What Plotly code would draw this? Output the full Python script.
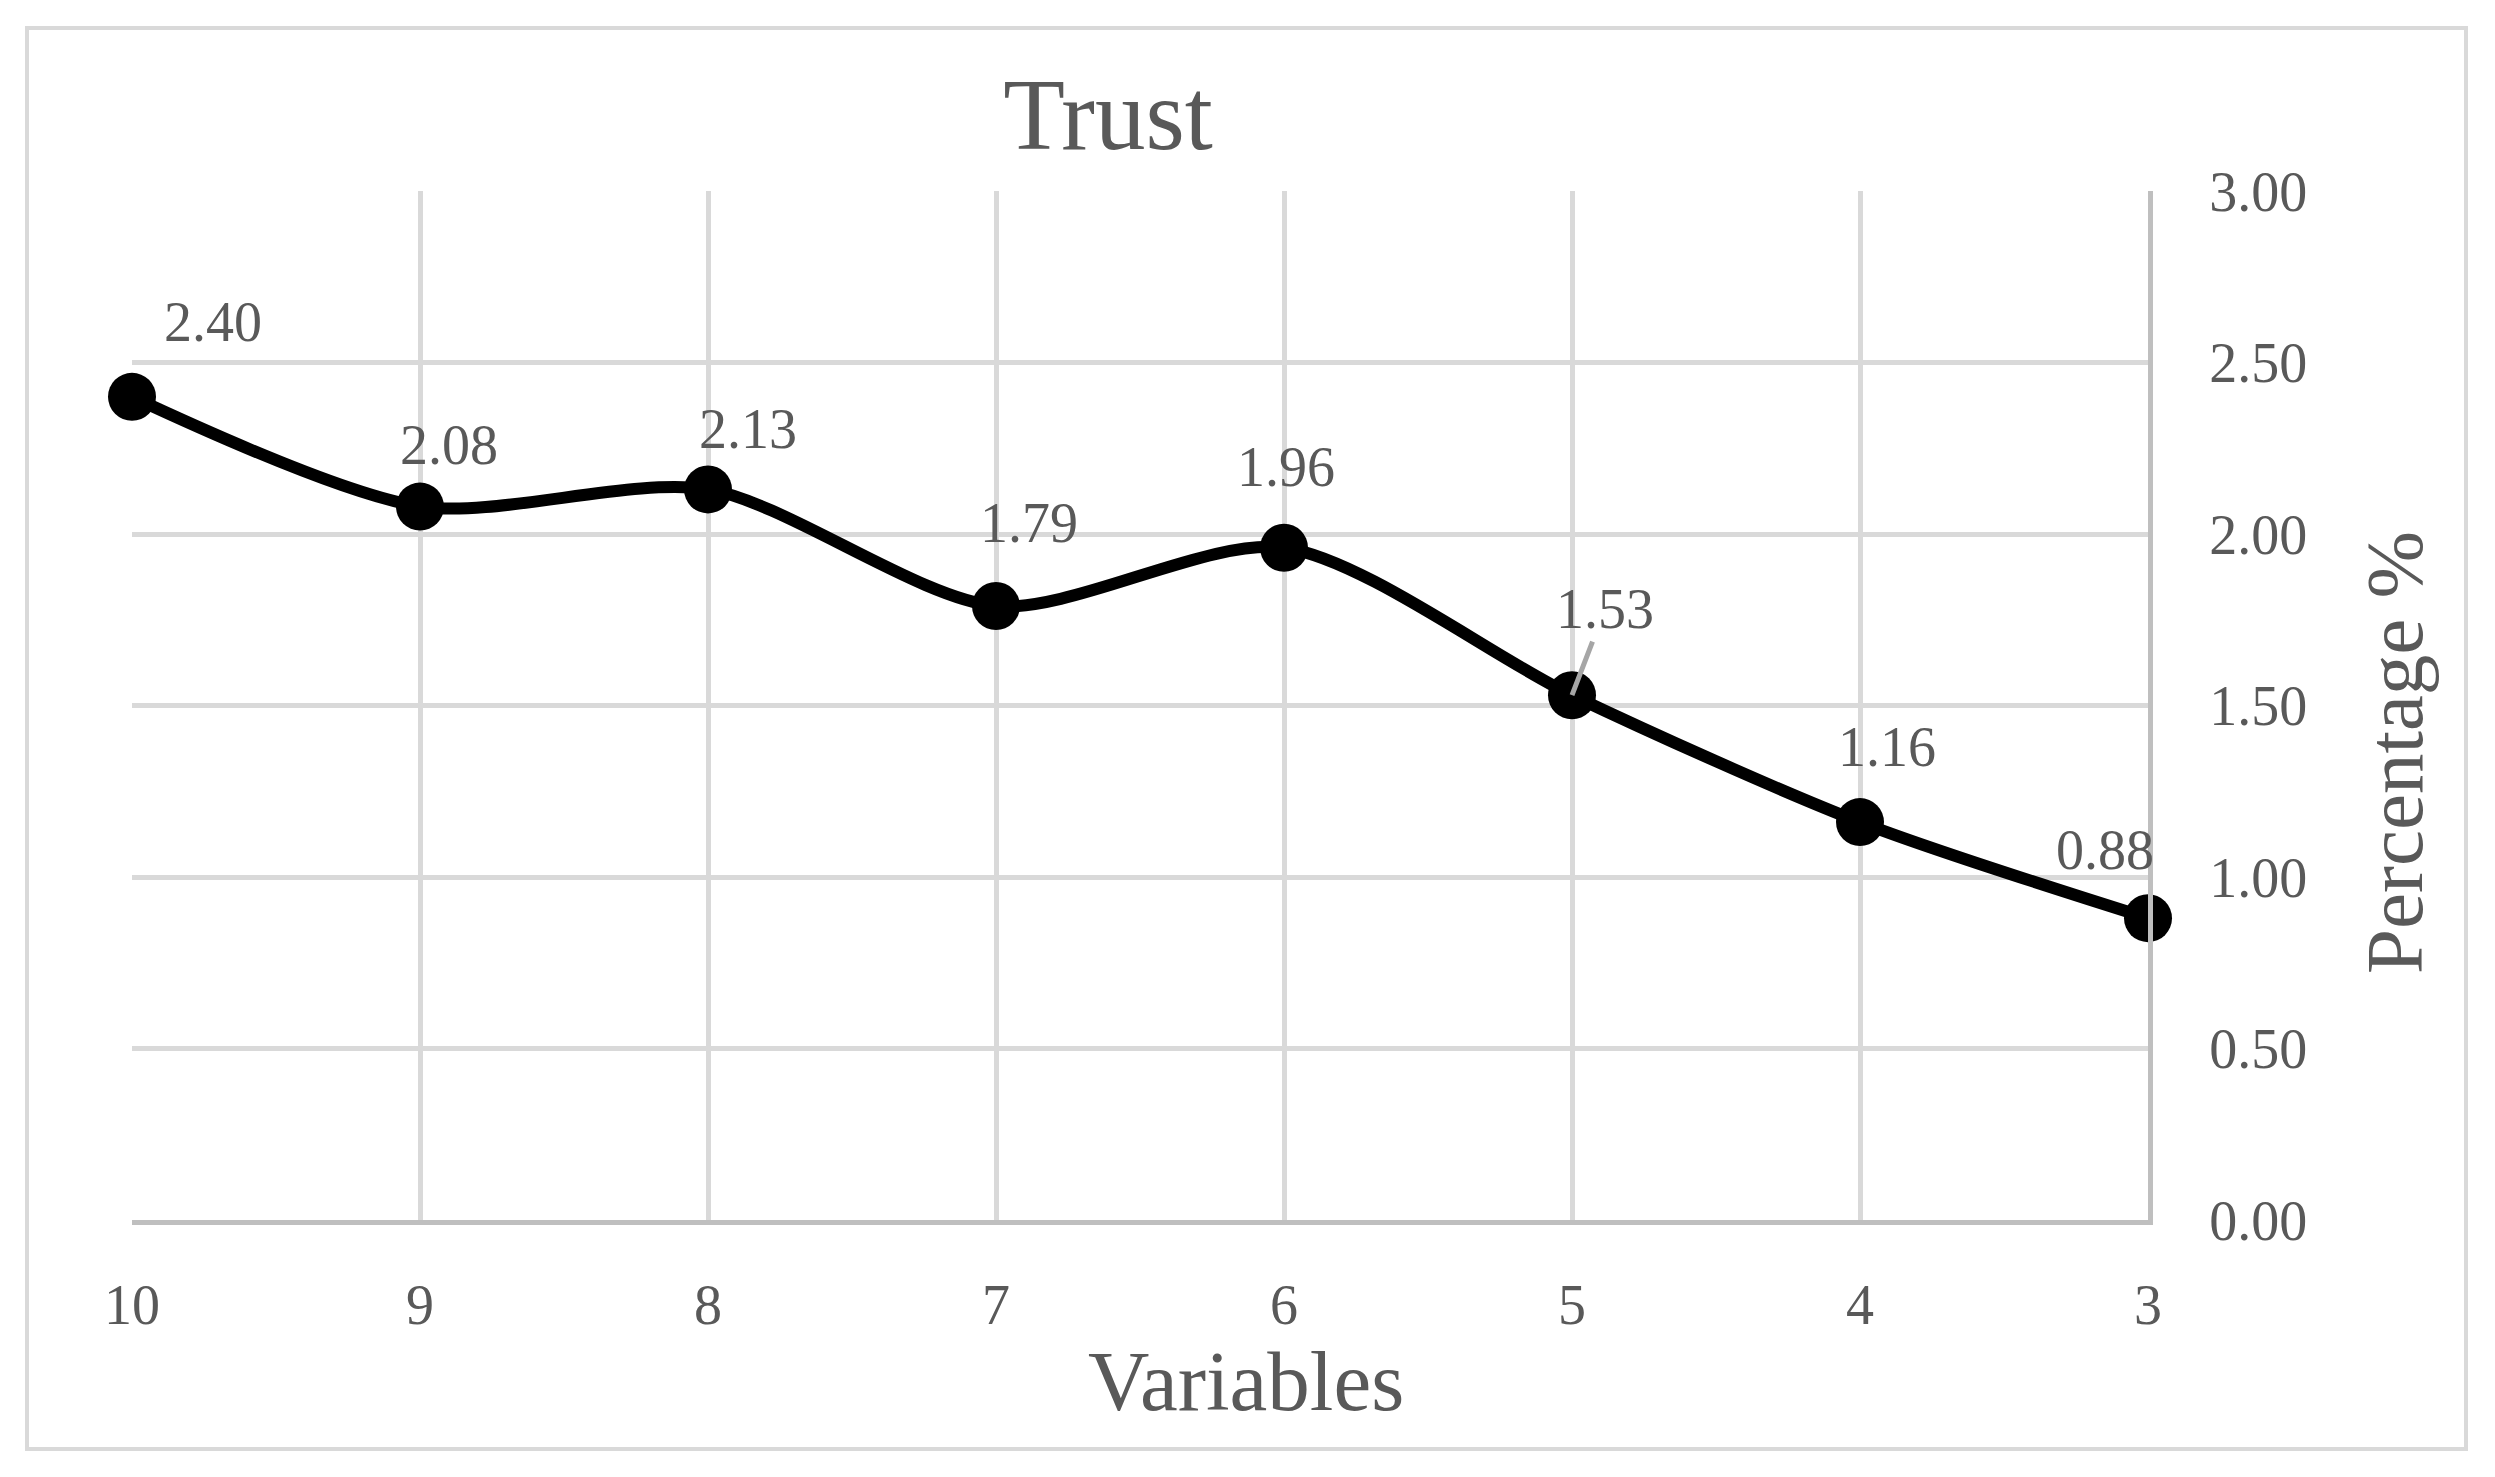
import plotly.graph_objects as go

categories = ["10", "9", "8", "7", "6", "5", "4", "3"]
values = [2.40, 2.08, 2.13, 1.79, 1.96, 1.53, 1.16, 0.88]
# label offsets (pixels) relative to each point
label_dx = [81, 29, 40, 33, 2, 33, 27, -43]
label_dy = [75, 62, 60, 83, 81, 86, 75, 68]
y_ticks = [0, 0.5, 1.0, 1.5, 2.0, 2.5, 3.0]

OFF = 8  # page body margin
W, H = 2495 - OFF, 1477 - OFF
# plot area in window pixels: x 132..2148, y 191..1220
L, T = 132 - OFF, 191 - OFF
R, B = OFF + W - 2148, OFF + H - 1220
pw, ph = 2148 - 132, 1220 - 191


def px(xw):
    return (xw - 132) / pw


def py(yw):
    return (1220 - yw) / ph


FONT = "Liberation Serif"
TXT = "#595959"
GRID = "#d9d9d9"
AXL = "#bfbfbf"

fig = go.Figure()
fig.add_trace(go.Scatter(
    x=categories, y=values, mode="lines+markers",
    line=dict(color="black", width=12, shape="spline", smoothing=0.8),
    marker=dict(color="black", size=48),
    cliponaxis=False, showlegend=False,
))

for i, v in enumerate(values):
    if categories[i] == "5":
        fig.add_annotation(
            x=i, y=v, text=f"{v:.2f}", showarrow=True,
            ax=label_dx[i], ay=-label_dy[i], axref="pixel", ayref="pixel",
            arrowhead=0, arrowwidth=5, arrowcolor="#a6a6a6", standoff=0,
            font=dict(family=FONT, size=56, color=TXT),
        )
    else:
        fig.add_annotation(
            x=i, y=v, text=f"{v:.2f}", showarrow=False,
            xshift=label_dx[i], yshift=label_dy[i],
            font=dict(family=FONT, size=56, color=TXT),
        )

# axis titles
fig.add_annotation(xref="paper", yref="paper", x=px(1246), y=py(1381),
                   text="Variables", showarrow=False,
                   xanchor="center", yanchor="middle",
                   font=dict(family=FONT, size=85, color=TXT))
fig.add_annotation(xref="paper", yref="paper", x=px(2395), y=py(753),
                   text="Percentage %", showarrow=False, textangle=-90,
                   xanchor="center", yanchor="middle",
                   font=dict(family=FONT, size=81, color=TXT))

# outer chart border
fig.add_shape(
    type="rect", xref="paper", yref="paper",
    x0=px(27), x1=px(2466), y0=py(1449), y1=py(28),
    line=dict(color=GRID, width=4), fillcolor="rgba(0,0,0,0)", layer="below",
)

fig.update_layout(
    width=W, height=H,
    margin=dict(l=L, r=R, t=T, b=B),
    paper_bgcolor="white", plot_bgcolor="white",
    title=dict(text="Trust", x=(1108 - OFF) / W, xref="container", xanchor="center",
               y=1 - (114 - OFF) / H, yanchor="middle",
               font=dict(family=FONT, size=101, color=TXT)),
    font=dict(family=FONT, color=TXT),
    xaxis=dict(
        type="category", range=[0, len(categories) - 1],
        showgrid=True, gridcolor=GRID, gridwidth=5,
        showline=True, linecolor=AXL, linewidth=5,
        ticks="outside", ticklen=32, tickcolor="rgba(0,0,0,0)",
        tickfont=dict(family=FONT, size=56, color=TXT),
        zeroline=False,
    ),
    yaxis=dict(
        side="right", range=[0, 3], tickvals=y_ticks, tickformat=".2f",
        showgrid=True, gridcolor=GRID, gridwidth=5,
        showline=True, linecolor=AXL, linewidth=5,
        ticks="outside", ticklen=45, tickcolor="rgba(0,0,0,0)",
        tickfont=dict(family=FONT, size=56, color=TXT),
        zeroline=False,
    ),
)

fig.write_html("out.html")
